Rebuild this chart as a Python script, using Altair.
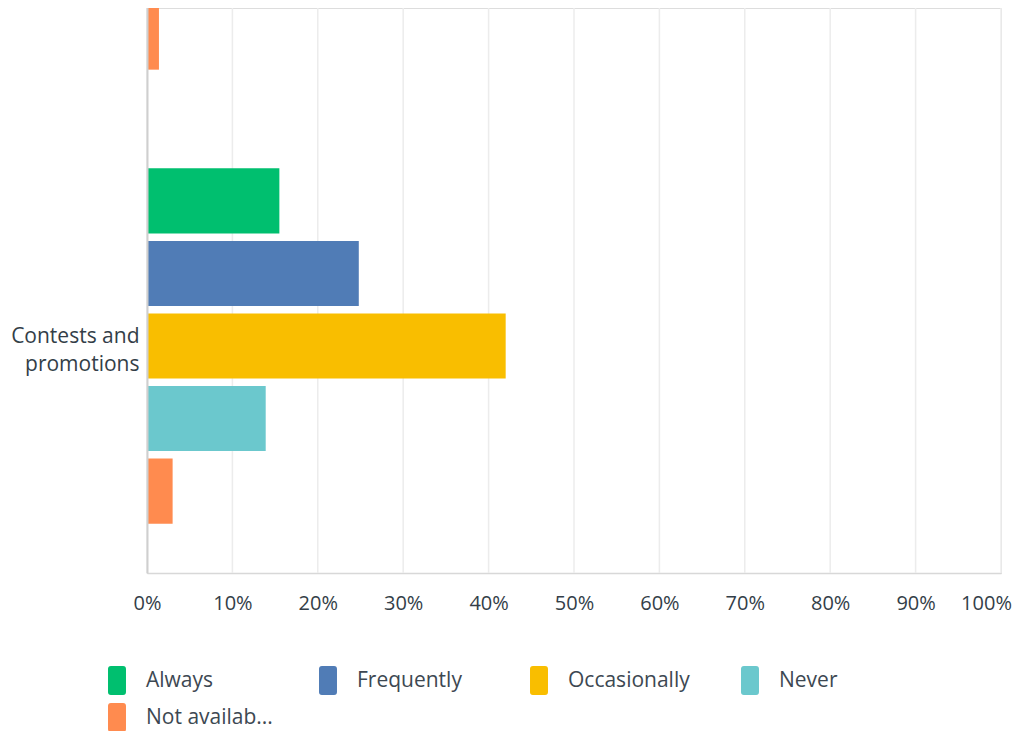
import altair as alt
import pandas as pd

# ---- data ----
items = ["Previous item", "Contests and promotions"]
responses = ["Always", "Frequently", "Occasionally", "Never", "Not available"]
colors = ["#00bf6f", "#507cb6", "#f9be00", "#6bc8cd", "#ff8b4f"]
contests_values = [15.5, 24.8, 42.0, 13.9, 3.0]
previous_not_available = [1.4]   # only the last bar of the item above is visible
x_ticks = [0, 10, 20, 30, 40, 50, 60, 70, 80, 90, 100]

rows = [{"item": items[1], "response": r, "value": v} for r, v in zip(responses, contests_values)]
rows.append({"item": items[0], "response": "Not available", "value": previous_not_available[0]})
df = pd.DataFrame(rows)
grid_df = pd.DataFrame({"value": x_ticks})

FONT = "Open Sans"
TEXT = "#333e48"
PLOT_W, PLOT_H = 854, 565
rounded = ("M-0.42,-1 H0.42 Q0.62,-1 0.62,-0.8 V0.8 Q0.62,1 0.42,1 "
           "H-0.42 Q-0.62,1 -0.62,0.8 V-0.8 Q-0.62,-1 -0.42,-1 Z")

x_enc = alt.X("value:Q", title=None,
              scale=alt.Scale(domain=[0, 100], nice=False),
              axis=alt.Axis(values=x_ticks, labelExpr="datum.value + '%'",
                            grid=False,
                            domain=True, domainColor="#d8d8d8", domainWidth=1.5,
                            ticks=False, labelPadding=20, labelFontSize=20,
                            labelOffset={"condition": {"test": "datum.value == 100", "value": -15}, "value": 0},
                            labelColor=TEXT, labelFont=FONT, labelFlush=False))

grid = alt.Chart(grid_df).mark_rule(color="#ececec", strokeWidth=1.5).encode(
    x=x_enc,
    y=alt.value(0),
    y2=alt.value(PLOT_H),
)

bars = alt.Chart(df).mark_bar(clip=True).encode(
    x=x_enc,
    y=alt.Y("item:N", title=None, sort=items,
            scale=alt.Scale(domain=items, range=[-343, PLOT_H], paddingInner=0, paddingOuter=0),
            axis=alt.Axis(values=[items[1]],
                          labelExpr="datum.label == 'Contests and promotions' ? ['Contests and', 'promotions'] : datum.label",
                          ticks=False, grid=False, domain=True, domainColor="#cfcfcf", domainWidth=2,
                          labelPadding=8, labelFontSize=21, labelLineHeight=28, labelOffset=-9,
                          labelColor=TEXT, labelFont=FONT, labelLimit=300, zindex=1)),
    yOffset=alt.YOffset("response:N", sort=responses,
                        scale=alt.Scale(domain=responses, paddingInner=0.103, paddingOuter=0.68)),
    color=alt.Color("response:N",
                    scale=alt.Scale(domain=responses, range=colors),
                    legend=alt.Legend(title=None, orient="none", legendX=-44.5, legendY=658,
                                      direction="horizontal", columns=4, gridAlign="all",
                                      columnPadding=40, rowPadding=8,
                                      symbolType=rounded, symbolSize=841, symbolStrokeWidth=0,
                                      symbolOpacity=1, labelOffset=14.5,
                                      labelFontSize=21, labelFont=FONT, labelColor="#3d4852",
                                      labelExpr="datum.label == 'Not available' ? 'Not availab...' : datum.label")),
)

chart = alt.layer(grid, bars).properties(
    width=PLOT_W, height=PLOT_H,
    autosize=alt.AutoSizeParams(type="none"),
    padding={"left": 139, "top": 0, "right": 12, "bottom": 158},
).configure_view(stroke=None).configure(font=FONT)

chart.save("out.html", embed_options={"renderer": "svg", "actions": False})
